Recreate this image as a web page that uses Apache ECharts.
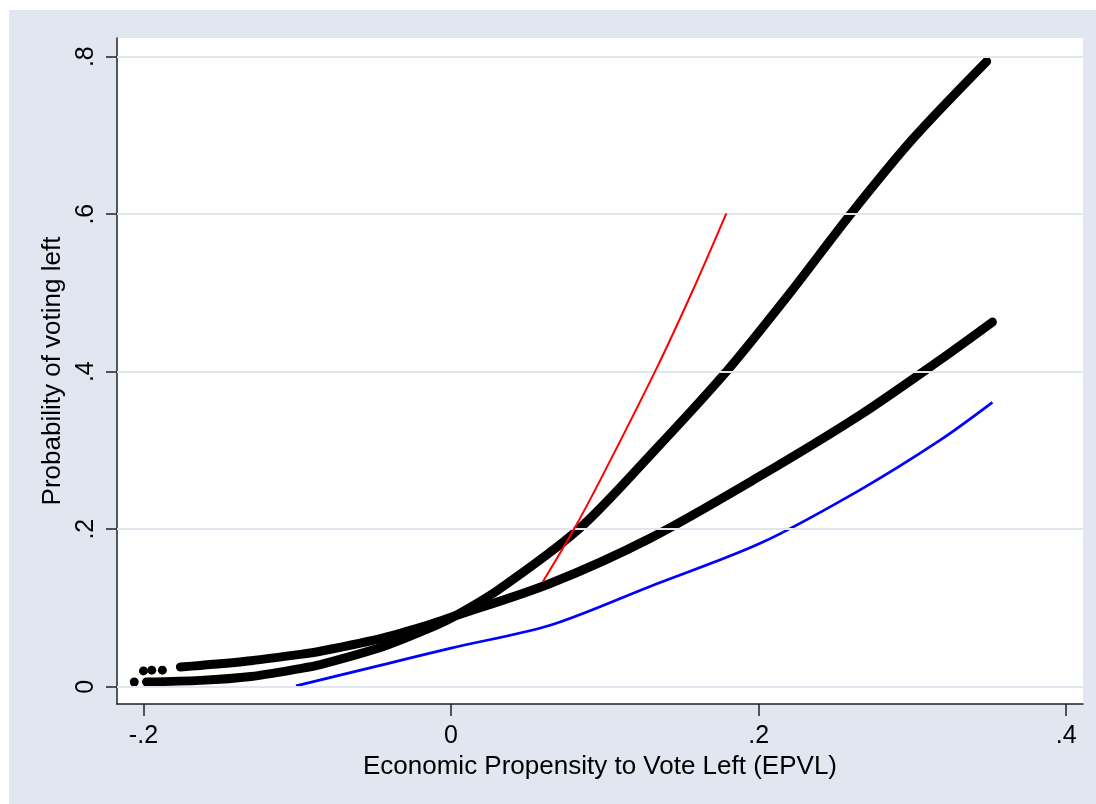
<!DOCTYPE html>
<html>
<head>
<meta charset="utf-8">
<script src="https://cdn.jsdelivr.net/npm/echarts@6/dist/echarts.min.js"></script>
<style>
html,body{margin:0;padding:0;background:#fff;}
#chart{width:1096px;height:804px;}
</style>
</head>
<body>
<div id="chart"></div>
<script>
// ---- data ----
const xTicks = [-0.2, 0, 0.2, 0.4];
const yTicks = [0, 0.2, 0.4, 0.6, 0.8];

// steep black curve (predicted points, dense markers)
const curveA_x = [-0.198, -0.163, -0.130, -0.098, -0.085, -0.044, -0.012, 0.000, 0.030, 0.083, 0.130, 0.179, 0.220, 0.259, 0.300, 0.3483];
const curveA_y = [0.006, 0.008, 0.013, 0.023, 0.028, 0.051, 0.076, 0.087, 0.122, 0.200, 0.295, 0.400, 0.499, 0.598, 0.695, 0.794];
const curveA_dots_x = [-0.206];
const curveA_dots_y = [0.006];

// flatter black curve
const curveB_x = [-0.176, -0.163, -0.130, -0.098, -0.085, -0.044, -0.012, 0.000, 0.0644, 0.129, 0.1988, 0.266, 0.318, 0.352];
const curveB_y = [0.025, 0.027, 0.033, 0.041, 0.045, 0.062, 0.080, 0.088, 0.131, 0.188, 0.265, 0.345, 0.415, 0.463];
const curveB_dots_x = [-0.200, -0.1946, -0.1877];
const curveB_dots_y = [0.020, 0.021, 0.021];

// red line
const red_x = [0.0596, 0.0785, 0.0969, 0.1326, 0.1576, 0.179];
const red_y = [0.133, 0.195, 0.262, 0.400, 0.505, 0.601];

// blue line
const blue_x = [-0.1008, -0.042, 0.000, 0.0644, 0.129, 0.201, 0.266, 0.318, 0.352];
const blue_y = [0.001, 0.029, 0.049, 0.078, 0.127, 0.182, 0.250, 0.313, 0.361];

const xTitle = 'Economic Propensity to Vote Left (EPVL)';
const yTitle = 'Probability of voting left';

function zip(a, b) { return a.map((v, i) => [v, b[i]]); }
function fmt(v) {
  if (Math.abs(v) < 1e-9) return '0';
  let s = String(Math.round(v * 10) / 10);
  return s.replace(/^(-?)0\./, '$1.');
}

const BG = '#E1E6F0';
const FONT = "'Liberation Sans', Arial, sans-serif";

const chart = echarts.init(document.getElementById('chart'), null, { renderer: 'canvas' });
chart.setOption({
  backgroundColor: '#ffffff',
  animation: false,
  graphic: [{
    type: 'rect', z: -10, silent: true,
    shape: { x: 9, y: 10, width: 1087, height: 794 },
    style: { fill: BG }
  }],
  grid: {
    left: 117, top: 38, width: 966, height: 666,
    show: true, backgroundColor: '#ffffff', borderWidth: 0
  },
  xAxis: {
    type: 'value', min: -0.2172, max: 0.4109,
    name: xTitle, nameLocation: 'middle', nameGap: 46,
    nameTextStyle: { fontFamily: FONT, fontSize: 26, color: '#000' },
    axisLine: { show: true, onZero: false, lineStyle: { color: '#222', width: 1.5 } },
    axisTick: { show: true, inside: false, length: 12, customValues: xTicks, lineStyle: { color: '#222', width: 1.5 } },
    axisLabel: { customValues: xTicks, margin: 20, formatter: fmt, fontFamily: FONT, fontSize: 25, color: '#000' },
    splitLine: { show: false }
  },
  yAxis: {
    type: 'value', min: -0.022, max: 0.8237,
    name: yTitle, nameLocation: 'middle', nameGap: 48, nameRotate: 90,
    nameTextStyle: { fontFamily: FONT, fontSize: 26, color: '#000' },
    axisLine: { show: true, onZero: false, lineStyle: { color: '#222', width: 1.5 } },
    axisTick: { show: true, inside: false, length: 11, customValues: yTicks, lineStyle: { color: '#222', width: 1.5 } },
    axisLabel: { customValues: yTicks, rotate: 90, margin: 18, formatter: fmt, fontFamily: FONT, fontSize: 25, color: '#000' },
    splitLine: { show: false }
  },
  series: [
    {
      type: 'line', name: 'grid', data: [], silent: true, z: 1,
      markLine: {
        silent: true, symbol: ['none', 'none'], label: { show: false },
        lineStyle: { color: BG, width: 2, type: 'solid' },
        data: yTicks.map(v => ({ yAxis: v }))
      }
    },
    {
      type: 'line', name: 'blue', data: zip(blue_x, blue_y), smooth: 0.3, showSymbol: false, z: 3,
      lineStyle: { color: '#0000FF', width: 2.7 }
    },
    {
      type: 'line', name: 'B', data: zip(curveB_x, curveB_y), smooth: 0.3, showSymbol: false, z: 4,
      lineStyle: { color: '#000', width: 9, cap: 'round', join: 'round' }
    },
    {
      type: 'line', name: 'A', data: zip(curveA_x, curveA_y), smooth: 0.3, showSymbol: false, z: 4,
      lineStyle: { color: '#000', width: 9, cap: 'round', join: 'round' }
    },
    {
      type: 'scatter', name: 'dots', z: 4, symbolSize: 9,
      itemStyle: { color: '#000', opacity: 1 },
      data: zip(curveA_dots_x, curveA_dots_y).concat(zip(curveB_dots_x, curveB_dots_y))
    },
    {
      type: 'line', name: 'red', data: zip(red_x, red_y), smooth: 0.3, showSymbol: false, z: 5,
      lineStyle: { color: '#FF0000', width: 2 }
    }
  ]
});
</script>
</body>
</html>
